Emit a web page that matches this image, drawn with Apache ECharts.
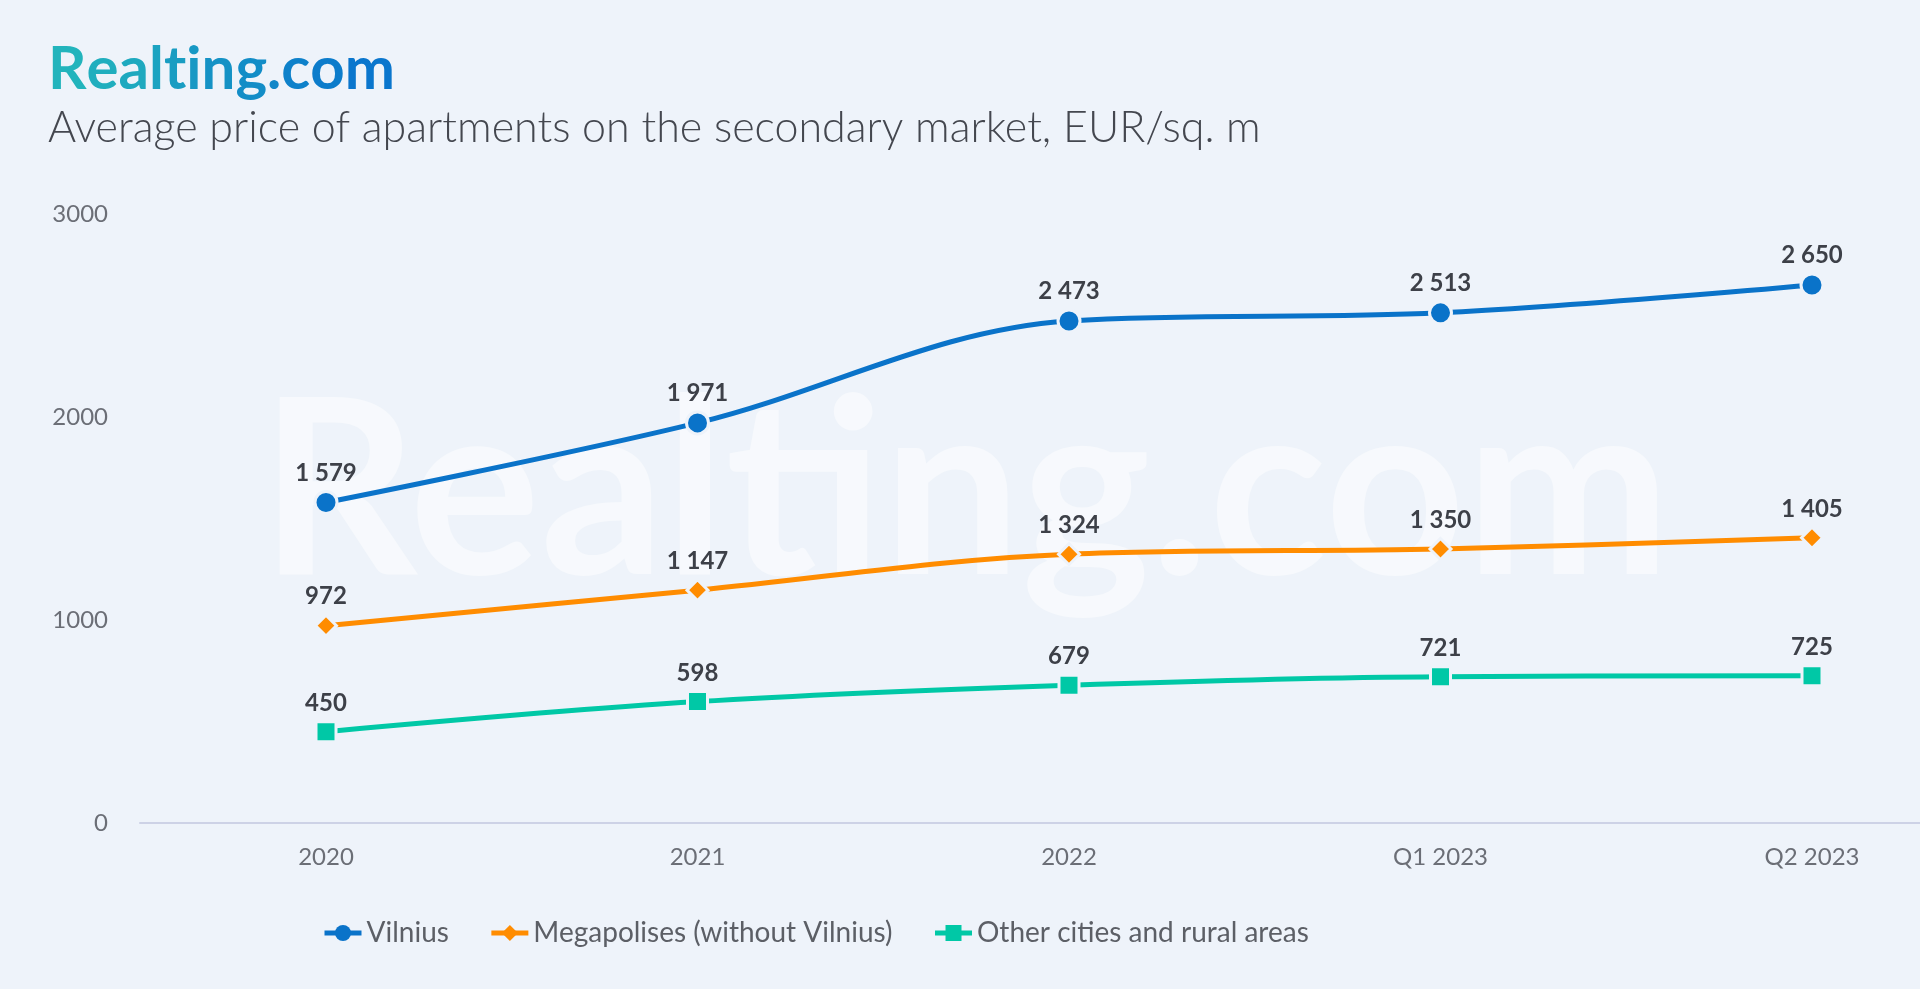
<!DOCTYPE html>
<html>
<head>
<meta charset="utf-8">
<script src="https://cdn.jsdelivr.net/npm/echarts@6/dist/echarts.min.js"></script>
<style>
html,body{margin:0;padding:0;background:#eef3fa;}
#chart{width:1920px;height:989px;}
</style>
</head>
<body>
<div id="chart"></div>
<script>
const categories = ['2020', '2021', '2022', 'Q1 2023', 'Q2 2023'];
const vilnius = [1579, 1971, 2473, 2513, 2650];
const megapolises = [972, 1147, 1324, 1350, 1405];
const otherCities = [450, 598, 679, 721, 725];
const seriesNames = ['Vilnius', 'Megapolises (without Vilnius)', 'Other cities and rural areas'];
const yTicks = [0, 1000, 2000, 3000];

const BG = '#eef3fa';
const chart = echarts.init(document.getElementById('chart'));
const fmt = v => String(v).replace(/\B(?=(\d{3})+(?!\d))/g, ' ');

// gradient-coloured logo text built from per-letter rich styles
const logo = 'Realting.com';
const c0 = [0x22, 0xb4, 0xbc], c1 = [0x0a, 0x76, 0xcd];
const rich = {};
let logoText = '';
for (let i = 0; i < logo.length; i++) {
  const t = i / (logo.length - 1);
  const c = c0.map((v, k) => Math.round(v + (c1[k] - v) * t));
  rich['c' + i] = {fill: 'rgb(' + c.join(',') + ')', font: 'bold 60px Lato'};
  logoText += '{c' + i + '|' + logo[i] + '}';
}

function lineSeries(name, data, color, symbol, size) {
  return {
    name: name,
    type: 'line',
    xAxisIndex: 0,
    yAxisIndex: 0,
    data: data,
    smooth: 0.35,
    symbol: symbol,
    symbolSize: size,
    showAllSymbol: true,
    lineStyle: {color: color, width: 5},
    itemStyle: {color: color, borderColor: BG, borderWidth: 3},
    label: {
      show: true,
      position: 'top',
      distance: 5,
      formatter: p => fmt(p.value),
      fontFamily: 'Lato',
      fontWeight: 'bold',
      fontSize: 24,
      color: '#3d4048'
    },
    z: 3
  };
}

chart.setOption({
  backgroundColor: BG,
  animation: false,
  graphic: [
    {
      type: 'text', left: 48, top: 40, z: 5,
      style: {text: logoText, rich: rich, font: 'bold 60px Lato'}
    },
    {
      type: 'text', left: 48, top: 107, z: 5,
      style: {
        text: 'Average price of apartments on the secondary market, EUR/sq. m',
        font: '300 43px Lato',
        fill: '#44474f'
      }
    },
    {
      type: 'text', left: 260, top: 372, z: 0, silent: true,
      style: {
        text: 'Realting.com',
        font: 'bold 245px Lato',
        fill: 'rgba(255,255,255,0.5)'
      }
    }
  ],
  grid: [
    {left: 326, right: 108, top: 214, bottom: 166, containLabel: false},
    {left: 140, right: 0, top: 214, bottom: 166, containLabel: false}
  ],
  xAxis: [
    {
      gridIndex: 0,
      type: 'category',
      data: categories,
      boundaryGap: false,
      axisLine: {show: false},
      axisTick: {show: false},
      axisLabel: {color: '#6b6e76', fontFamily: 'Lato', fontSize: 24, margin: 22}
    },
    {
      gridIndex: 1,
      type: 'category',
      data: [''],
      axisLine: {show: true, lineStyle: {color: '#cdd2e6', width: 2}},
      axisTick: {show: false},
      axisLabel: {show: false}
    }
  ],
  yAxis: [
    {
      gridIndex: 0,
      type: 'value',
      min: yTicks[0],
      max: yTicks[yTicks.length - 1],
      interval: 1000,
      show: false
    },
    {
      gridIndex: 1,
      type: 'value',
      min: yTicks[0],
      max: yTicks[yTicks.length - 1],
      interval: 1000,
      splitLine: {show: false},
      axisLine: {show: false},
      axisTick: {show: false},
      axisLabel: {color: '#6b6e76', fontFamily: 'Lato', fontSize: 24, margin: 32, formatter: v => String(v)}
    }
  ],
  legend: {
    left: 317,
    top: 914,
    itemWidth: 37,
    itemHeight: 20,
    itemGap: 40,
    lineStyle: {width: 5},
    itemStyle: {borderWidth: 0},
    textStyle: {color: '#5c5f66', fontFamily: 'Lato', fontSize: 28},
    data: seriesNames
  },
  series: [
    lineSeries(seriesNames[0], vilnius, '#0a73c9', 'circle', 22),
    lineSeries(seriesNames[1], megapolises, '#ff8c00', 'diamond', 21),
    lineSeries(seriesNames[2], otherCities, '#00c8a6', 'rect', 20)
  ]
});
</script>
</body>
</html>
